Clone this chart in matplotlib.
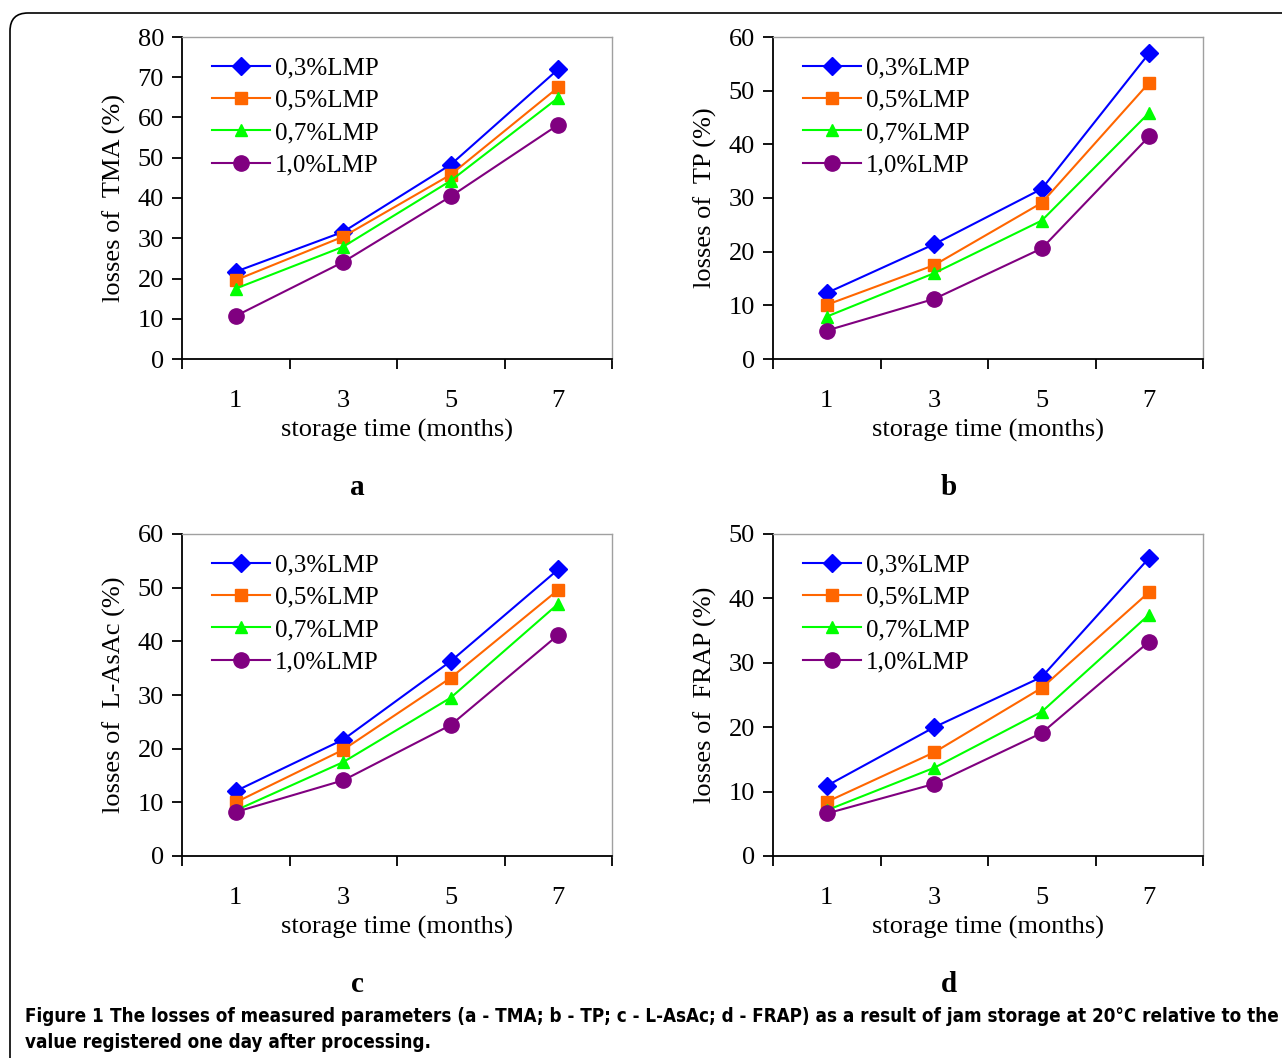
import matplotlib
matplotlib.use("Agg")
import matplotlib.pyplot as plt
from matplotlib.patches import FancyBboxPatch
from matplotlib.transforms import IdentityTransform
from matplotlib import font_manager
import numpy as np

plt.rcParams['font.family'] = ['Liberation Serif', 'DejaVu Serif']

# data
months = ["1", "3", "5", "7"]
series_labels = ["0,3%LMP", "0,5%LMP", "0,7%LMP", "1,0%LMP"]

tma = [
    [21.7, 31.6, 48.3, 72.0],
    [19.6, 30.4, 45.8, 67.5],
    [17.5, 27.9, 44.3, 64.9],
    [10.7, 24.1, 40.4, 58.2],
]
tp = [
    [12.3, 21.4, 31.7, 57.0],
    [10.1, 17.5, 29.1, 51.5],
    [7.9, 16.0, 25.8, 45.9],
    [5.3, 11.2, 20.6, 41.5],
]
lasac = [
    [12.1, 21.7, 36.3, 53.4],
    [10.0, 19.8, 33.2, 49.6],
    [8.5, 17.5, 29.5, 47.0],
    [8.2, 14.1, 24.4, 41.2],
]
frap = [
    [10.9, 20.0, 27.8, 46.3],
    [8.4, 16.1, 26.1, 41.0],
    [7.1, 13.7, 22.4, 37.5],
    [6.6, 11.2, 19.1, 33.3],
]

panels = [
    ("a", tma, 80, "losses of  TMA (%)"),
    ("b", tp, 60, "losses of  TP (%)"),
    ("c", lasac, 60, "losses of  L-AsAc (%)"),
    ("d", frap, 50, "losses of  FRAP (%)"),
]

caption_bold = "Figure 1"
caption_line1 = ("The losses of measured parameters (a - TMA; b - TP; c - L-AsAc; d - FRAP) "
                 "as a result of jam storage at 20°C relative to the")
caption_line2 = "value registered one day after processing."

colors = ["#0000FF", "#FF6600", "#00FF00", "#800080"]
markers = ["D", "s", "^", "o"]
msizes = [9.5, 8, 9, 11]


def pick_caption_font():
    # look for a narrow sans font, fall back to a normal one
    for fam, stretch in [("Liberation Sans Narrow", "normal"), ("DejaVu Sans", "condensed"),
                         ("Roboto Condensed", "normal"), ("Open Sans", "condensed"),
                         ("Roboto", "normal")]:
        try:
            path = font_manager.findfont(font_manager.FontProperties(family=fam, stretch=stretch),
                                         fallback_to_default=False)
        except Exception:
            continue
        if stretch == "condensed" and "ondensed" not in path:
            continue
        return fam, stretch
    return "DejaVu Sans", "normal"


W, H = 1282, 1058
fig = plt.figure(figsize=(W / 100, H / 100), dpi=100)

# rounded frame around the figure (pixel coordinates, top-left at 10,13)
frame = FancyBboxPatch((10, -100), 1500, H - 13 + 100, boxstyle="round,pad=0,rounding_size=18",
                       transform=IdentityTransform(), fill=False, edgecolor="black", linewidth=1.2)
fig.patches.append(frame)

# axes rectangles in pixels: left, top
boxes = [(182, 37), (773, 37), (182, 534), (773, 534)]
letter_pos = [(357, 487), (949, 487), (357, 984), (949, 984)]
aw, ah = 430, 322

for (letter, data, ymax, ylab), (px, py), (lx, ly) in zip(panels, boxes, letter_pos):
    ax = fig.add_axes([px / W, 1 - (py + ah) / H, aw / W, ah / H])
    x = np.arange(1, len(months) + 1)
    for vals, lab, c, m, ms in zip(data, series_labels, colors, markers, msizes):
        ax.plot(x, vals, color=c, marker=m, markersize=ms, linewidth=1.5, label=lab,
                clip_on=False)
    ax.set_xlim(0.5, len(months) + 0.5)
    ax.set_ylim(0, ymax)
    ax.set_yticks(np.arange(0, ymax + 1, 10))
    ax.set_xticks(np.arange(0.5, len(months) + 1, 1.0))
    ax.set_xticklabels([])
    ax.set_xticks(x, minor=True)
    ax.set_xticklabels(months, minor=True)
    ax.tick_params(axis='x', which='minor', length=0, pad=22, labelsize=19)
    ax.tick_params(axis='x', which='major', direction='out', length=7, width=1.3)
    ax.tick_params(axis='y', direction='out', length=7, width=1.3, labelsize=19, pad=6)
    for s in ['left', 'bottom']:
        ax.spines[s].set_linewidth(1.3)
    for s in ['top', 'right']:
        ax.spines[s].set_color('#A0A0A0')
        ax.spines[s].set_linewidth(1.0)
    ax.set_xlabel("storage time (months)", fontsize=19, labelpad=5.5)
    ax.set_ylabel(ylab, fontsize=19, labelpad=8)
    ax.legend(loc='upper left', frameon=False, fontsize=18, handlelength=2.3,
              handletextpad=0.2, labelspacing=0.39, borderaxespad=0.2,
              bbox_to_anchor=(0.035, 0.984))
    fig.text(lx / W, 1 - ly / H, letter, fontsize=21, fontweight='bold',
             ha='center', va='center')

# caption, sized so the first line reaches the right edge
cap_fam, cap_stretch = pick_caption_font()
cap_kw = dict(family=[cap_fam, 'DejaVu Sans'], stretch=cap_stretch, va='center', ha='left')
t1 = fig.text(25 / W, 1 - 1016 / H, caption_bold, fontsize=14, fontweight='bold', **cap_kw)
t2 = fig.text(0, 1 - 1016 / H, caption_line1, fontsize=14, fontweight='bold', **cap_kw)
t3 = fig.text(25 / W, 1 - 1043 / H, caption_line2, fontsize=14, fontweight='bold', **cap_kw)
fig.canvas.draw()
r = fig.canvas.get_renderer()
total = t1.get_window_extent(r).width + 6 + t2.get_window_extent(r).width
size = 14 * min(1.35, 1258 / total)
for t in (t1, t2, t3):
    t.set_fontsize(size)
fig.canvas.draw()
bb = t1.get_window_extent(r)
t2.set_x((bb.x1 + 6 * size / 14) / W)

fig.savefig("out.png", dpi=100)
